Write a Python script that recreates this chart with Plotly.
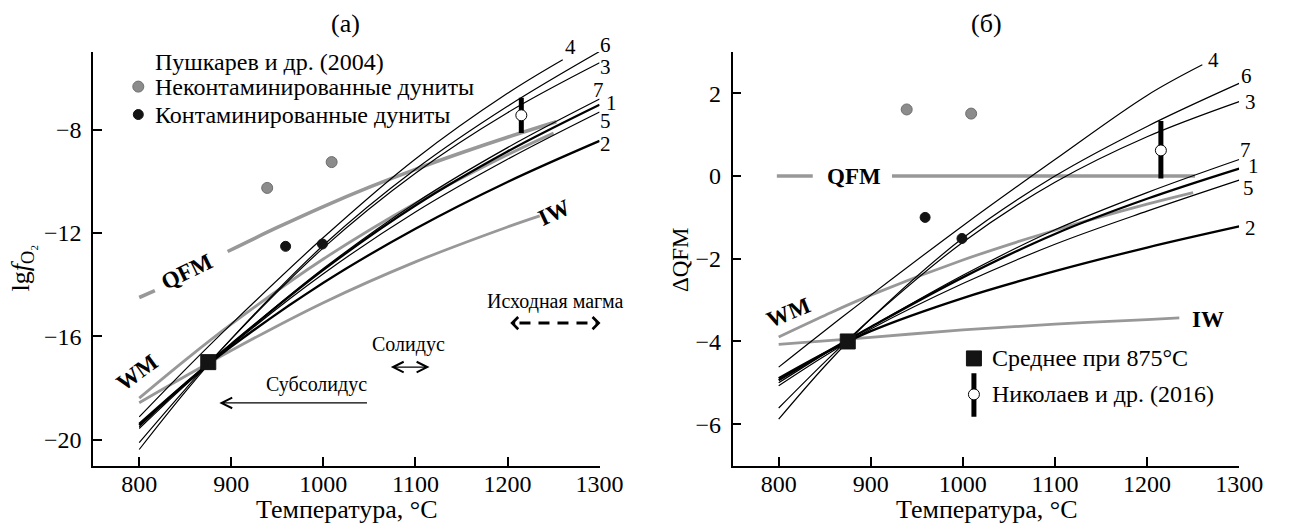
import plotly.graph_objects as go

# ---------------- data ----------------
T = [800, 850, 900, 1000, 1100, 1200, 1300]
T4 = [800, 850, 900, 1000, 1100, 1200, 1260]

# panel (а): lg fO2
a1 = [-19.44, -17.83, -16.30, -13.43, -10.94, -8.85, -7.04]
a2 = [-19.39, -17.83, -16.40, -13.93, -11.84, -10.03, -8.44]
a3 = [-20.11, -18.05, -16.10, -12.58, -9.69, -7.35, -5.42]
a4 = [-19.12, -17.29, -15.53, -12.18, -9.14, -6.60, -5.30]
a5 = [-19.57, -17.90, -16.35, -13.58, -11.19, -9.15, -7.32]
a6 = [-20.38, -18.15, -16.10, -12.48, -9.54, -7.10, -4.98]
a7 = [-19.50, -17.85, -16.30, -13.38, -10.84, -8.70, -6.82]

# panel (б): ΔQFM
b1 = [-4.94, -4.28, -3.65, -2.45, -1.40, -0.55, 0.18]
b2 = [-4.89, -4.28, -3.75, -2.95, -2.30, -1.73, -1.22]
b3 = [-5.61, -4.50, -3.45, -1.60, -0.15, 0.95, 1.80]
b4 = [-4.62, -3.74, -2.88, -1.20, 0.40, 1.95, 2.69]
b5 = [-5.07, -4.35, -3.70, -2.60, -1.65, -0.85, -0.10]
b6 = [-5.88, -4.60, -3.45, -1.50, 0.00, 1.20, 2.24]
b7 = [-5.00, -4.30, -3.65, -2.40, -1.30, -0.40, 0.40]

# buffers
T_qfm_a = [800, 817, None, 896, 950, 1000, 1050, 1100, 1150, 1200, 1253]
a_qfm = [-14.50, -14.23, None, -12.72, -11.79, -10.98, -10.23, -9.54, -8.90, -8.30, -7.70]
T_qfm_b = [798, 837, None, 923, 1252]
b_qfm = [0, 0, None, 0, 0]
T_wm = [800, 850, 900, 1000, 1100, 1200, 1250]
a_wm = [-18.39, -16.92, -15.53, -13.01, -10.85, -8.98, -8.14]
b_wm = [-3.89, -3.37, -2.88, -2.03, -1.31, -0.68, -0.40]
T_iw = [800, 900, 1000, 1100, 1200, 1235]
a_iw = [-18.57, -16.55, -14.70, -13.12, -11.77, -11.34]
b_iw = [-4.07, -3.90, -3.72, -3.58, -3.47, -3.43]

# points
T_gray = [939, 1009]
a_gray = [-10.26, -9.26]
b_gray = [1.61, 1.51]
T_black = [959, 999]
a_black = [-12.52, -12.43]
b_black = [-1.00, -1.51]
T_nik = [1215]
a_nik = [-7.45]
a_nik_up = [0.68]
a_nik_dn = [0.68]
b_nik = [0.62]
b_nik_up = [0.71]
b_nik_dn = [0.68]
T_mean = [875]
a_mean = [-17.0]
b_mean = [-4.0]

curve_names = ["1", "2", "3", "4", "5", "6", "7"]
curve_thick = {"1": 2.3, "2": 2.3}

# label pixel positions (layout)
a_lab_px = {"4": (581, 47), "6": (617, 45), "3": (617, 67), "7": (610, 90),
            "1": (623, 103), "5": (617, 121), "2": (617, 144)}
b_lab_px = {"4": (1236, 60), "6": (1270, 76), "3": (1274, 102), "7": (1269, 150),
            "1": (1277, 166), "5": (1272, 188), "2": (1274, 228)}

# ---------------- figure ----------------
FONT = "Liberation Serif"
GRAY = "rgb(152,152,152)"
W, H = 1290, 525
fig = go.Figure()


def line(x, y, xa, ya, color, width, dash=None):
    fig.add_trace(go.Scatter(
        x=x, y=y, xaxis=xa, yaxis=ya, mode="lines",
        line=dict(color=color, width=width, shape="spline", dash=dash),
        hoverinfo="skip", showlegend=False, connectgaps=False))


# gray buffers
line(T_qfm_a, a_qfm, "x", "y", GRAY, 3.6)
line(T_wm, a_wm, "x", "y", GRAY, 2.8)
line(T_iw, a_iw, "x", "y", GRAY, 2.8)
line(T_qfm_b, b_qfm, "x2", "y2", GRAY, 3.6)
line(T_wm, b_wm, "x2", "y2", GRAY, 2.8)
line(T_iw, b_iw, "x2", "y2", GRAY, 2.8)

a_sets = [a1, a2, a3, a4, a5, a6, a7]
b_sets = [b1, b2, b3, b4, b5, b6, b7]
for name, ya_, yb_ in zip(curve_names, a_sets, b_sets):
    xs = T4 if name == "4" else T
    w = curve_thick.get(name, 1.2)
    line(xs, ya_, "x", "y", "black", w)
    line(xs, yb_, "x2", "y2", "black", w)


def pts(x, y, xa, ya, color, size, symbol="circle", lc=None, err=None):
    fig.add_trace(go.Scatter(
        x=x, y=y, xaxis=xa, yaxis=ya, mode="markers",
        marker=dict(color=color, size=size, symbol=symbol,
                    line=dict(color=lc or color, width=1)),
        error_y=err, hoverinfo="skip", showlegend=False))


for xa, ya, g, bk, nk, up, dn, mn in [
        ("x", "y", a_gray, a_black, a_nik, a_nik_up, a_nik_dn, a_mean),
        ("x2", "y2", b_gray, b_black, b_nik, b_nik_up, b_nik_dn, b_mean)]:
    pts(T_gray, g, xa, ya, "rgb(140,140,140)", 11, lc="rgb(110,110,110)")
    pts(T_black, bk, xa, ya, "rgb(20,20,20)", 10)
    pts(T_nik, nk, xa, ya, "white", 11, lc="black",
        err=dict(type="data", symmetric=False, array=up, arrayminus=dn,
                 color="black", thickness=5, width=0))
    pts(T_mean, mn, xa, ya, "rgb(20,20,20)", 15, symbol="square")

# legend keys (decorations)
pts([799], [-6.34], "x", "y", "rgb(140,140,140)", 11, lc="rgb(110,110,110)")
pts([799], [-7.42], "x", "y", "rgb(20,20,20)", 10)
pts([1012], [-4.41], "x2", "y2", "rgb(20,20,20)", 15, symbol="square")
pts([1012], [-5.28], "x2", "y2", "white", 11, lc="black",
    err=dict(type="data", symmetric=False, array=[0.51], arrayminus=[0.54],
             color="black", thickness=5, width=0))

axis_common = dict(showline=True, linecolor="black", linewidth=1.5,
                   ticks="inside", ticklen=9, tickwidth=1.5, tickcolor="black",
                   showgrid=False, zeroline=False,
                   tickfont=dict(family=FONT, size=24, color="black"))
ydom = [0.1133, 0.9010]
fig.update_layout(
    width=W, height=H, margin=dict(l=0, r=0, t=0, b=0),
    paper_bgcolor="white", plot_bgcolor="white",
    font=dict(family=FONT, size=21, color="black"),
    xaxis=dict(domain=[0.0736, 0.4736], anchor="y", range=[750, 1300],
               tickvals=[800, 900, 1000, 1100, 1200, 1300],
               ticklabelstandoff=-4, **axis_common),
    yaxis=dict(domain=ydom, anchor="x", range=[-21, -5],
               tickvals=[-20, -16, -12, -8], ticklabelstandoff=5,
               **axis_common),
    xaxis2=dict(domain=[0.5787, 0.9788], anchor="y2", range=[750, 1300],
                tickvals=[800, 900, 1000, 1100, 1200, 1300],
                ticklabelstandoff=-4, **axis_common),
    yaxis2=dict(domain=ydom, anchor="x2", range=[-7, 3],
                tickvals=[-6, -4, -2, 0, 2], ticklabelstandoff=5,
                **axis_common),
)

ann = []


def txt(x, y, text, xref="x", yref="y", size=21, angle=0, xanchor="center", bold=False):
    ann.append(dict(x=x, y=y, xref=xref, yref=yref, text=f"<b>{text}</b>" if bold else text,
                    showarrow=False, textangle=angle, xanchor=xanchor, yanchor="middle",
                    font=dict(family=FONT, size=size, color="black")))


def ptxt(px, py, text, size, angle=0):
    txt(px / W, (H - py) / H, text, "paper", "paper", size, angle)


# panel titles and axis titles
ptxt(352, 24, "(а)", 26)
ptxt(1005, 24, "(б)", 26)
ptxt(354, 509, "Температура, °C", 26)
ptxt(1006, 509, "Температура, °C", 26)
ptxt(22, 268, "lg<i>f</i><sub>O₂</sub>", 26, -90)
ptxt(693, 260, "ΔQFM", 23, -90)

# curve labels
for k, (px, py) in a_lab_px.items():
    ptxt(px, py, k, 21)
for k, (px, py) in b_lab_px.items():
    ptxt(px, py, k, 21)

# buffer labels
txt(852, -13.5, "QFM", "x", "y", 23, -26, bold=True)
txt(798, -17.42, "WM", "x", "y", 23, -36, bold=True)
txt(1251, -11.2, "IW", "x", "y", 23, -25, bold=True)
txt(882, 0, "QFM", "x2", "y2", 23, 0, bold=True)
txt(811, -3.29, "WM", "x2", "y2", 23, -22, bold=True)
txt(1266, -3.46, "IW", "x2", "y2", 23, 0, bold=True)

# legends
txt(815, -5.40, "Пушкарев и др. (2004)", "x", "y", 24, xanchor="left")
txt(815, -6.34, "Неконтаминированные дуниты", "x", "y", 24, xanchor="left")
txt(815, -7.42, "Контаминированные дуниты", "x", "y", 24, xanchor="left")
txt(1029.6, -4.41, "Среднее при 875°C", "x2", "y2", 24, xanchor="left")
txt(1029.6, -5.28, "Николаев и др. (2016)", "x2", "y2", 24, xanchor="left")

# arrow texts
txt(1252, -14.64, "Исходная магма", "x", "y", 20)
txt(1092, -16.3, "Солидус", "x", "y", 20)
txt(993, -17.85, "Субсолидус", "x", "y", 20)


def arrow(x, ax, y, head=5, width=1.3, size=1.6, both=False):
    d = dict(x=x, y=y, ax=ax, ay=y, xref="x", yref="y", axref="x", ayref="y",
             text="", showarrow=True, arrowhead=head, arrowwidth=width,
             arrowsize=size, arrowcolor="black", standoff=0, startstandoff=0)
    if both:
        d.update(arrowside="end+start", startarrowhead=head, startarrowsize=size)
    ann.append(d)


arrow(887, 1049, -18.58)
arrow(1115.3, 1071.6, -17.19, both=True)
arrow(1203, 1210, -15.49, head=4, width=2.6, size=0.9)
arrow(1301, 1294, -15.49, head=4, width=2.6, size=0.9)

fig.update_layout(annotations=ann, shapes=[
    dict(type="line", xref="x", yref="y", x0=1213, x1=1291, y0=-15.49, y1=-15.49,
         line=dict(color="black", width=3, dash="11px,8px"))
])

fig.write_html("out.html")
